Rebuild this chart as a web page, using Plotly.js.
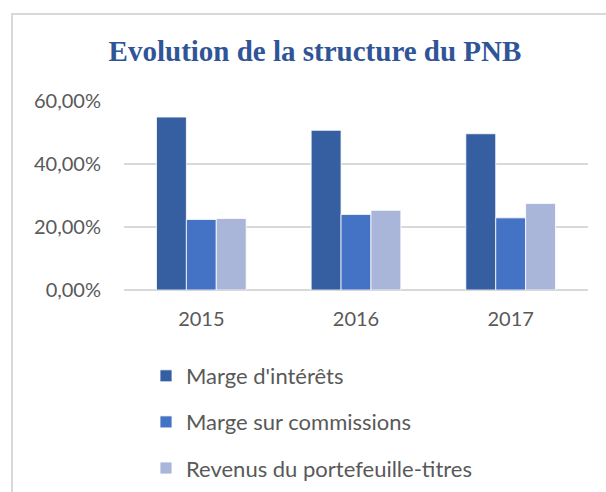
<!DOCTYPE html>
<html>
<head>
<meta charset="utf-8">
<script src="https://cdn.plot.ly/plotly-3.0.1.min.js"></script>
<style>
html,body{margin:0;padding:0;background:#fff;overflow:hidden;width:606px;height:492px;}
#chart{position:absolute;left:0;top:0;width:606px;height:492px;}
#frame{position:absolute;left:11px;top:13px;width:700px;height:600px;border:2px solid #d9d9d9;pointer-events:none;}
</style>
</head>
<body>
<div id="chart"></div>
<div id="frame"></div>
<script>
var years = ['2015', '2016', '2017'];
var margeInterets = [54.9, 50.7, 49.6];
var margeCommissions = [22.4, 24.0, 22.9];
var revenusPortefeuille = [22.7, 25.3, 27.5];
var seriesNames = ["Marge d'intérêts", "Marge sur commissions", "Revenus du portefeuille-titres"];
var yTickVals = [0, 20, 40, 60];
var yTickText = ['0,00%', '20,00%', '40,00%', '60,00%'];

var colors = ['#365FA2', '#4472C4', '#A9B6DA'];
var seriesValues = [margeInterets, margeCommissions, revenusPortefeuille];

var traces = seriesValues.map(function (vals, i) {
  return {
    type: 'bar',
    x: years,
    y: vals,
    name: seriesNames[i],
    legendgroup: 'g' + i,
    marker: {color: colors[i], line: {color: '#ffffff', width: 0.8}},
    hoverinfo: 'skip'
  };
});

var tickFont = {family: 'Lato, "Open Sans", sans-serif', size: 20, color: '#595959'};

var layout = {
  width: 606,
  height: 492,
  paper_bgcolor: '#ffffff',
  plot_bgcolor: '#ffffff',
  margin: {l: 124, r: 18, t: 101, b: 202, autoexpand: false},
  barmode: 'group',
  bargap: 0.42,
  bargroupgap: 0,
  title: {
    text: '<b>Evolution de la structure du PNB</b>',
    font: {family: '"Liberation Serif", "Times New Roman", serif', size: 29, color: '#2F5597'},
    xref: 'container', x: 315 / 606, xanchor: 'center',
    yref: 'container', y: 1 - 41 / 492, yanchor: 'top'
  },
  xaxis: {
    type: 'category',
    tickfont: tickFont,
    tickangle: 0,
    showline: false,
    ticks: '',
    ticklabelstandoff: 15,
    fixedrange: true
  },
  yaxis: {
    range: [0, 60],
    tickvals: yTickVals,
    ticktext: yTickText,
    tickfont: tickFont,
    showgrid: true,
    gridcolor: '#d9d9d9',
    gridwidth: 1.5,
    zeroline: true,
    zerolinecolor: '#d9d9d9',
    zerolinewidth: 1.5,
    showline: false,
    ticks: '',
    ticklabelstandoff: 22,
    fixedrange: true
  },
  showlegend: true,
  legend: {
    orientation: 'v',
    xref: 'container', yref: 'container',
    x: 146 / 606, xanchor: 'left',
    y: 1 - 355 / 492, yanchor: 'top',
    font: {family: 'Lato, "Open Sans", sans-serif', size: 22, color: '#595959'},
    tracegroupgap: 14.5,
    bgcolor: 'rgba(0,0,0,0)',
    traceorder: 'grouped'
  }
};

Plotly.newPlot('chart', traces, layout, {displayModeBar: false, staticPlot: true});
</script>
</body>
</html>
